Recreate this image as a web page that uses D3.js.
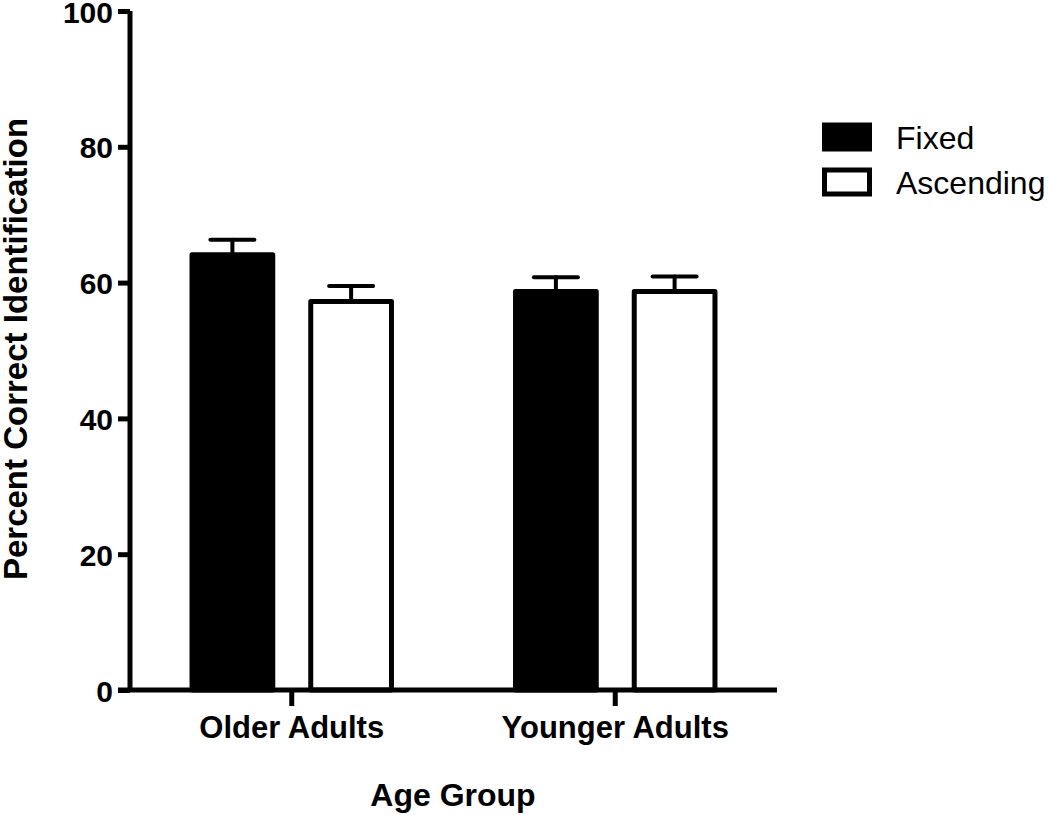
<!DOCTYPE html>
<html><head><meta charset="utf-8">
<script src="https://cdn.jsdelivr.net/npm/d3@7"></script>
<style>body{margin:0;background:#fff}svg{display:block}</style>
</head><body>
<svg id="c" width="1050" height="815"></svg>
<script>
const groups = ["Older Adults", "Younger Adults"];
const seriesNames = ["Fixed", "Ascending"];
const fixedValues = [64.1, 58.7];
const ascendingValues = [57.2, 58.7];
const fixedErr = [2.2, 2.1];
const ascendingErr = [2.3, 2.2];
const yTicks = [0, 20, 40, 60, 80, 100];

const font = "'Liberation Sans', Arial, sans-serif";
const svg = d3.select("#c");
const y = d3.scaleLinear().domain([0, 100]).range([690, 11]);
const x0 = d3.scaleBand().domain(groups).range([130, 777]).paddingInner(0.2).paddingOuter(0.1);
const x1 = d3.scaleBand().domain(seriesNames).range([0, x0.bandwidth()]).paddingInner(0.32).paddingOuter(0.25);

const data = [];
groups.forEach((g, i) => {
  data.push({g, s: "Fixed", v: fixedValues[i], e: fixedErr[i]});
  data.push({g, s: "Ascending", v: ascendingValues[i], e: ascendingErr[i]});
});

// error bars (behind bars)
const capW = 44;
const eb = svg.append("g").attr("stroke", "#000").attr("stroke-width", 4).attr("stroke-linecap", "round");
data.forEach(d => {
  const cx = x0(d.g) + x1(d.s) + x1.bandwidth() / 2;
  eb.append("line").attr("x1", cx).attr("x2", cx).attr("y1", y(d.v)).attr("y2", y(d.v + d.e));
  eb.append("line").attr("x1", cx - capW / 2).attr("x2", cx + capW / 2).attr("y1", y(d.v + d.e)).attr("y2", y(d.v + d.e));
});

// bars
svg.append("g").selectAll("rect").data(data).join("rect")
  .attr("x", d => x0(d.g) + x1(d.s))
  .attr("y", d => y(d.v))
  .attr("width", x1.bandwidth())
  .attr("height", d => y(0) - y(d.v))
  .attr("fill", d => d.s === "Fixed" ? "#000" : "#fff")
  .attr("stroke", "#000").attr("stroke-width", 5).attr("stroke-linejoin", "round");

// y axis
const yAxis = svg.append("g").attr("transform", "translate(130,0)")
  .call(d3.axisLeft(y).tickValues(yTicks).tickSize(12).tickPadding(5).tickFormat(d3.format("d")));
yAxis.select(".domain").attr("d", `M0,${y(100)}V${y(0)}`).attr("stroke-width", 5);
yAxis.selectAll(".tick line").attr("stroke-width", 5);
yAxis.selectAll(".tick text").attr("font-family", font).attr("font-weight", "bold").attr("font-size", 30).attr("fill", "#000").attr("dy", "0.37em");

// x axis
const xAxis = svg.append("g").attr("transform", `translate(0,${y(0)})`)
  .call(d3.axisBottom(x0).tickSize(16).tickPadding(10));
xAxis.select(".domain").attr("d", `M118,0H777`).attr("stroke-width", 5);
xAxis.selectAll(".tick line").attr("stroke-width", 5);
xAxis.selectAll(".tick text").attr("font-family", font).attr("font-weight", "bold").attr("font-size", 31).attr("fill", "#000");

// axis titles
svg.append("text").attr("x", 453).attr("y", 806).attr("text-anchor", "middle")
  .attr("font-family", font).attr("font-weight", "bold").attr("font-size", 32).text("Age Group");
svg.append("text").attr("transform", "translate(27,349) rotate(-90)").attr("text-anchor", "middle")
  .attr("font-family", font).attr("font-weight", "bold").attr("font-size", 33).text("Percent Correct Identification");

// legend
const legend = svg.append("g");
seriesNames.forEach((s, i) => {
  const ly = 125 + i * 45;
  legend.append("rect").attr("x", 824.5).attr("y", ly).attr("width", 45).attr("height", 24)
    .attr("fill", s === "Fixed" ? "#000" : "#fff").attr("stroke", "#000").attr("stroke-width", 5);
  legend.append("text").attr("x", 896).attr("y", ly + 24).attr("font-family", font)
    .attr("font-size", 32).attr("fill", "#000").text(s);
});
</script>
</body></html>
